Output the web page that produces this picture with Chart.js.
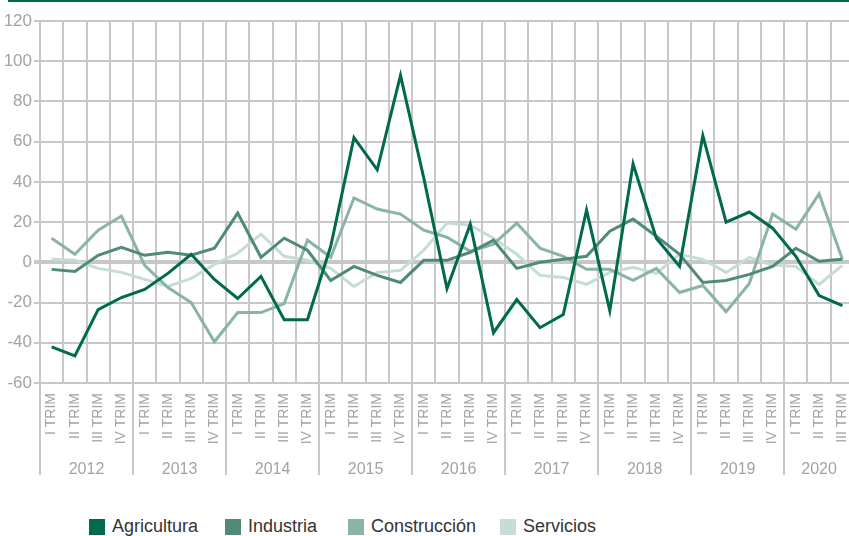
<!DOCTYPE html>
<html>
<head>
<meta charset="utf-8">
<script src="https://cdn.jsdelivr.net/npm/chart.js@4.4.1/dist/chart.umd.min.js"></script>
<style>
  html, body { margin: 0; padding: 0; background: #fff; overflow: hidden; }
  #wrap { position: relative; width: 849px; height: 536px; overflow: hidden; }
  #topRule { position: absolute; left: 8px; top: 0; width: 841px; height: 2px; background: #00694e; }
  #myChart { position: absolute; left: 0; top: 0; }
  #legend {
    position: absolute; left: 0; top: 516px; width: 849px; height: 20px;
    font-family: "Liberation Sans", Arial, sans-serif; font-size: 18px; color: #333;
  }
  #legend span.item { position: absolute; top: 0; display: flex; align-items: center; white-space: nowrap; }
  #legend span.box { display: inline-block; width: 16px; height: 16px; margin-right: 7px; }
</style>
</head>
<body>
<div id="wrap">
  <div id="topRule"></div>
  <canvas id="myChart" width="854" height="493"></canvas>
  <div id="legend"></div>
</div>
<script>
// Quarterly change (%), 2012 I TRIM - 2020 III TRIM
const years = ['2012', '2013', '2014', '2015', '2016', '2017', '2018', '2019', '2020'];
const quarterNames = ['I TRIM', 'II TRIM', 'III TRIM', 'IV TRIM'];
const quarterCount = 35;

const agricultura = [-42, -46.5, -23.5, -17.5, -13.5, -5.5, 4, -8.5, -18, -7, -28.5, -28.5, 8, 62, 46, 93, 42, -13, 19, -35,
  -18.5, -32.5, -26, 26, -24, 49, 12, -2, 63, 20, 25, 17, 3, -16.5, -21.5];
const industria = [-3.5, -4.5, 3.5, 7.5, 3.5, 5, 3.5, 7, 24.5, 2.5, 12, 6, -9, -2, -6.5, -10, 1, 1, 5, 11,
  -3, 0, 1.5, 3, 15.5, 21.5, 13, 4, -10, -9, -6, -2, 7, 0.5, 1.5];
const construccion = [12, 4, 16, 23, -1.5, -12.5, -20, -39.5, -25, -25, -20.5, 11, 2.5, 32, 26.5, 24, 16, 12.5, 5.5, 9,
  19.5, 7, 3, -3.5, -3.5, -9, -3, -15, -11.5, -24.5, -10.5, 24, 16.5, 34, 1.5];
const servicios = [1.5, 1, -3, -5, -8.5, -12, -8, -1, 4.5, 14, 3, 1, -3, -12, -5, -4, 6, 19.5, 18.5, 12,
  4, -6.5, -7.5, -11, -5, -2.5, -5.5, 4, 1.5, -5, 2.5, -1.5, -2, -11, -1.5];

const seriesNames = ['Agricultura', 'Industria', 'Construcción', 'Servicios'];
const seriesColors = ['#00694e', '#4f8b78', '#8ab4a4', '#c6ddd3'];
// left edge of each legend entry
const legendLeft = [89, 225, 348, 500];

const labels = [];
for (let i = 0; i < quarterCount; i++) labels.push(quarterNames[i % 4]);

const gridGray = '#c8c8c8';
const textGray = '#a3a3a3';
const fontFamily = '"Liberation Sans", Arial, sans-serif';

// year captions and separators under the quarter labels
const yearAxis = {
  id: 'yearAxis',
  afterDraw(chart) {
    const ctx = chart.ctx;
    const x = chart.scales.x;
    const area = chart.chartArea;
    const half = (area.right - area.left) / quarterCount / 2;
    const bottom = area.bottom + 92;
    ctx.save();
    ctx.strokeStyle = gridGray;
    ctx.lineWidth = 2;
    ctx.fillStyle = textGray;
    ctx.font = '16px ' + fontFamily;
    ctx.textAlign = 'center';
    ctx.textBaseline = 'middle';
    years.forEach((year, k) => {
      const first = k * 4;
      const last = Math.min(first + 3, quarterCount - 1);
      const left = Math.round(x.getPixelForValue(first) - half);
      ctx.beginPath();
      ctx.moveTo(left, area.bottom);
      ctx.lineTo(left, bottom);
      ctx.stroke();
      const mid = (x.getPixelForValue(first) + x.getPixelForValue(last)) / 2;
      ctx.fillText(year, mid, area.bottom + 87);
    });
    ctx.restore();
  }
};

const ctx = document.getElementById('myChart').getContext('2d');
const chart = new Chart(ctx, {
  type: 'line',
  data: {
    labels: labels,
    datasets: [agricultura, industria, construccion, servicios].map((values, i) => ({
      label: seriesNames[i],
      data: values,
      borderColor: seriesColors[i],
      backgroundColor: seriesColors[i],
      borderWidth: 3,
      borderJoinStyle: 'miter',
      pointRadius: 0,
      tension: 0,
      fill: false,
      order: i
    }))
  },
  options: {
    responsive: false,
    animation: false,
    layout: { padding: { top: 21, left: 0, right: 0, bottom: 0 } },
    plugins: {
      legend: { display: false },
      tooltip: { enabled: false }
    },
    scales: {
      x: {
        type: 'category',
        offset: true,
        grid: { offset: true, color: gridGray, lineWidth: 2, drawTicks: false },
        border: { display: false },
        ticks: {
          autoSkip: false, minRotation: 90, maxRotation: 90, padding: 10,
          color: textGray, font: { family: fontFamily, size: 14 }
        },
        afterFit(scale) {
          scale.height = 110;
          scale.paddingLeft = 0;
          scale.paddingRight = 0;
        }
      },
      y: {
        min: -60,
        max: 120,
        ticks: {
          stepSize: 20, padding: 2, color: textGray,
          font: { family: fontFamily, size: 17 }
        },
        grid: {
          color: gridGray,
          lineWidth: c => (c.tick && c.tick.value === 0 ? 4 : 2),
          tickLength: 6
        },
        border: { display: true, color: gridGray, width: 2 },
        afterFit(scale) { scale.width = 40; }
      }
    }
  },
  plugins: [yearAxis]
});

// legend row
const legend = document.getElementById('legend');
seriesNames.forEach((name, i) => {
  const item = document.createElement('span');
  item.className = 'item';
  item.style.left = legendLeft[i] + 'px';
  item.innerHTML = '<span class="box" style="background:' + seriesColors[i] + '"></span>' + name;
  legend.appendChild(item);
});
</script>
</body>
</html>
